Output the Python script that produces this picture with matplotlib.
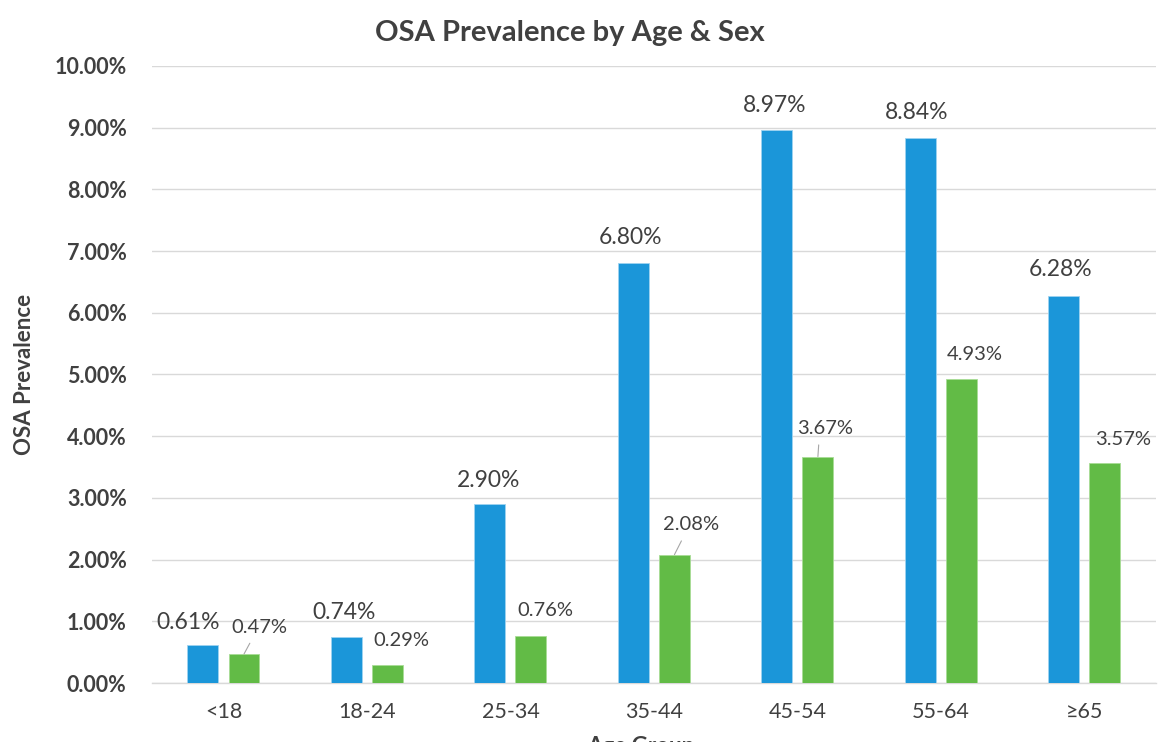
import matplotlib.pyplot as plt
import numpy as np
from matplotlib.ticker import PercentFormatter

plt.rcParams['font.family'] = ['Lato', 'DejaVu Sans']

age_groups = ["<18", "18-24", "25-34", "35-44", "45-54", "55-64", "\u226565"]
male = [0.61, 0.74, 2.90, 6.80, 8.97, 8.84, 6.28]
female = [0.47, 0.29, 0.76, 2.08, 3.67, 4.93, 3.57]

# label offsets from bar top (points) and whether a leader line is drawn
male_offsets = [(-11, 16.5), (-1.5, 18), (-0.7, 17.3), (-1.8, 18.7), (-1.4, 17.6), (-2.5, 17.7), (-2.2, 18.4)]
female_offsets = [(11.2, 19.4), (10, 18), (10.4, 18.7), (11.9, 21.6), (5, 20.5), (9.7, 17.3), (13, 16.6)]
female_leader = [True, False, False, True, True, False, False]

blue = '#1B96D9'
green = '#62BB46'
text_col = '#404040'

fig = plt.figure(figsize=(11.7, 7.42), dpi=100)
ax = fig.add_axes([0.1297, 0.0795, 0.8584, 0.8316])

x = np.arange(len(age_groups))
w = 0.216
off = 0.143
ax.bar(x - off, male, width=w, color=blue, edgecolor='#9fd3f0', linewidth=0.6, zorder=3)
ax.bar(x + off, female, width=w, color=green, edgecolor='#a8dc96', linewidth=0.6, zorder=3)

for i, v in enumerate(male):
    ax.annotate(f"{v:.2f}%", xy=(x[i] - off, v), xytext=male_offsets[i],
                textcoords='offset points', ha='center', va='center',
                fontsize=16.5, color=text_col)

for i, v in enumerate(female):
    arrow = None
    if female_leader[i]:
        arrow = dict(arrowstyle='-', color='#a6a6a6', lw=0.8,
                     shrinkA=4, shrinkB=0, relpos=(0.4, 0))
    ax.annotate(f"{v:.2f}%", xy=(x[i] + off, v), xytext=female_offsets[i],
                textcoords='offset points', ha='center', va='center',
                fontsize=14.5, color=text_col, arrowprops=arrow)

ax.set_xlim(-0.5, len(age_groups) - 0.5)
ax.set_ylim(0, 10)
ax.set_yticks(np.arange(0, 10.01, 1))
ax.yaxis.set_major_formatter(PercentFormatter(decimals=2))
ax.set_xticks(x)
ax.set_xticklabels(age_groups)

ax.grid(axis='y', color='#d9d9d9', linewidth=1, zorder=0)
ax.set_axisbelow(True)
for s in ['top', 'right', 'left']:
    ax.spines[s].set_visible(False)
ax.spines['bottom'].set_color('#d9d9d9')
ax.spines['bottom'].set_linewidth(1)
ax.tick_params(axis='both', length=0)
ax.tick_params(axis='y', pad=18, labelsize=15.5, labelcolor=text_col)
ax.tick_params(axis='x', pad=14, labelsize=15.5, labelcolor=text_col)
for lab in ax.get_yticklabels():
    lab.set_fontweight('bold')

ax.set_ylabel("OSA Prevalence", fontsize=16, fontweight='bold', color=text_col, labelpad=14)
fig.text(0.487, 0.955, "OSA Prevalence by Age & Sex", ha='center', va='center',
         fontsize=21, fontweight='bold', color=text_col)
# x-axis title is mostly cut off by the bottom edge, as in the reference
fig.text(0.548, 0.0075, "Age Group", ha='center', va='top',
         fontsize=16, fontweight='bold', color=text_col)

fig.savefig("out.png", dpi=100)
